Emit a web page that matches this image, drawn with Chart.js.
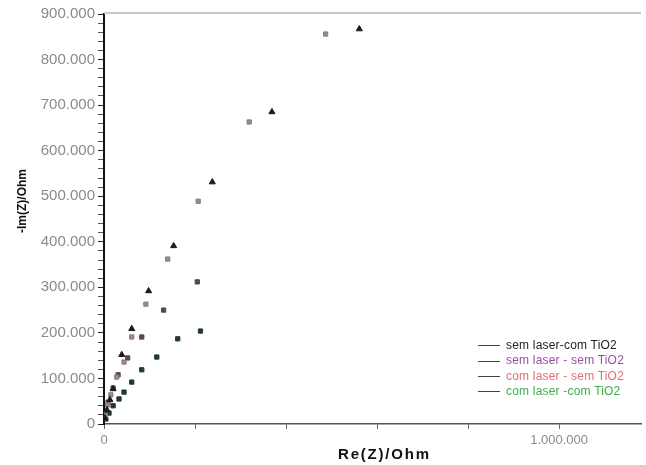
<!DOCTYPE html>
<html>
<head>
<meta charset="utf-8">
<script src="https://cdn.jsdelivr.net/npm/chart.js@4.4.1/dist/chart.umd.min.js"></script>
<style>
  body { margin: 0; background: #fff; font-family: "Liberation Sans", Arial, sans-serif; }
  #wrap { position: relative; width: 646px; height: 465px; overflow: hidden; }
  #nyquist { position: absolute; left: 0; top: 0; }
  .legend { position: absolute; left: 478px; top: 338px; font-size: 12px; letter-spacing: 0.2px; line-height: 15.3px; }
  .legend div { white-space: nowrap; }
  .legend span.ln { display: inline-block; width: 22px; height: 0; border-top: 1.5px solid #444; vertical-align: middle; margin-right: 6px; }
  .ytitle { position: absolute; left: 22px; top: 201px; transform: translate(-50%, -50%) rotate(-90deg); font-weight: bold; font-size: 12px; white-space: nowrap; color: #111; }
  .xtitle { position: absolute; left: 338px; top: 445px; font-weight: bold; font-size: 15px; letter-spacing: 1.8px; color: #111; white-space: nowrap; }
</style>
</head>
<body>
<div id="wrap">
  <canvas id="nyquist" width="646" height="465"></canvas>
  <div class="ytitle">-Im(Z)/Ohm</div>
  <div class="xtitle">Re(Z)/Ohm</div>
  <div class="legend">
    <div style="color:#222"><span class="ln"></span>sem laser-com TiO2</div>
    <div style="color:#9a4fa3"><span class="ln"></span>sem laser - sem TiO2</div>
    <div style="color:#e0706e"><span class="ln"></span>com laser - sem TiO2</div>
    <div style="color:#3fae4c"><span class="ln"></span>com laser -com TiO2</div>
  </div>
</div>
<script>
// valeurs (Ohm)
const semLaserComTiO2Re = [2000, 6500, 13000, 20000, 39000, 61000, 98000, 153000, 238000, 369000, 561000];
const semLaserComTiO2Im = [13000, 31000, 53000, 77000, 152000, 209000, 292000, 391000, 531000, 685000, 867000];

const semLaserSemTiO2Re = [3000, 8000, 15000, 28000, 44000, 61000, 92000, 140000, 207000, 319000, 487000];
const semLaserSemTiO2Im = [18000, 42000, 64000, 103000, 136000, 191000, 263000, 362000, 489000, 663000, 856000];

const comLaserSemTiO2Re = [3000, 9000, 20000, 31000, 52000, 83000, 131000, 205000];
const comLaserSemTiO2Im = [22000, 48000, 79000, 108000, 145000, 191000, 250000, 312000];

const comLaserComTiO2Re = [4000, 11000, 20000, 33000, 44000, 61000, 83000, 116000, 162000, 212000];
const comLaserComTiO2Im = [11000, 24000, 40000, 55000, 70000, 92000, 119000, 147000, 187000, 204000];

// graduations
const xTickValues = [0, 200000, 400000, 600000, 800000, 1000000];
const xLabelledTicks = [0, 1000000];
const yMajorStep = 100000;
const yMinorStep = 20000;

const xMax = 1180000;
const yMax = 900000;

function toPoints(re, im) {
    return re.map((x, i) => ({ x: x, y: im[i] }));
}

function fmt(v) {
    return String(Math.round(v)).replace(/\B(?=(\d{3})+(?!\d))/g, '.');
}

function isMultiple(v, step) {
    return Math.abs(v / step - Math.round(v / step)) < 1e-6;
}

// ligne grise en haut du cadre
const topFrame = {
    id: 'topFrame',
    afterDraw(chart) {
        const a = chart.chartArea;
        const ctx = chart.ctx;
        ctx.save();
        ctx.strokeStyle = '#c8c8c8';
        ctx.lineWidth = 2;
        ctx.beginPath();
        ctx.moveTo(a.left, a.top - 1);
        ctx.lineTo(a.right, a.top - 1);
        ctx.stroke();
        ctx.restore();
    }
};

const ctx = document.getElementById('nyquist').getContext('2d');
new Chart(ctx, {
    type: 'scatter',
    data: {
        datasets: [
            { label: 'sem laser-com TiO2', data: toPoints(semLaserComTiO2Re, semLaserComTiO2Im),
              pointStyle: 'triangle', pointRadius: 3.5, backgroundColor: '#1a1a1a', borderColor: '#1a1a1a', borderWidth: 1 },
            { label: 'sem laser - sem TiO2', data: toPoints(semLaserSemTiO2Re, semLaserSemTiO2Im),
              pointStyle: 'rect', pointRadius: 3, backgroundColor: '#9a8a94', borderColor: '#8a7a84', borderWidth: 1 },
            { label: 'com laser - sem TiO2', data: toPoints(comLaserSemTiO2Re, comLaserSemTiO2Im),
              pointStyle: 'rect', pointRadius: 3, backgroundColor: '#5a4646', borderColor: '#5a4646', borderWidth: 1 },
            { label: 'com laser -com TiO2', data: toPoints(comLaserComTiO2Re, comLaserComTiO2Im),
              pointStyle: 'rect', pointRadius: 3, backgroundColor: '#223a26', borderColor: '#223a26', borderWidth: 1 }
        ]
    },
    options: {
        responsive: false,
        animation: false,
        layout: { padding: { top: 14, right: 0, left: 0, bottom: 0 } },
        plugins: { legend: { display: false }, tooltip: { enabled: false } },
        scales: {
            x: {
                type: 'linear',
                min: 0,
                max: xMax,
                afterFit: s => { s.height = 41; },
                afterBuildTicks: s => { s.ticks = xTickValues.map(v => ({ value: v })); },
                ticks: {
                    autoSkip: false,
                    maxRotation: 0,
                    padding: 4,
                    color: '#8a8a8a',
                    font: { family: 'Liberation Sans', size: 13 },
                    callback: v => xLabelledTicks.includes(v) ? fmt(v) : ''
                },
                grid: { drawOnChartArea: false, drawTicks: true, tickLength: 5, color: '#666' },
                border: { display: true, color: '#555', width: 1.5 }
            },
            y: {
                type: 'linear',
                min: 0,
                max: yMax,
                afterFit: s => { s.width = 104; },
                afterBuildTicks: s => {
                    const t = [];
                    for (let v = 0; v <= yMax; v += yMinorStep) t.push({ value: v });
                    s.ticks = t;
                },
                ticks: {
                    autoSkip: false,
                    padding: 3,
                    color: '#8a8a8a',
                    font: { family: 'Liberation Sans', size: 15 },
                    callback: v => isMultiple(v, yMajorStep) ? fmt(v) : ''
                },
                grid: {
                    drawOnChartArea: false,
                    drawTicks: true,
                    tickLength: 6,
                    color: c => (c.tick && isMultiple(c.tick.value, yMajorStep)) ? '#222' : '#555'
                },
                border: { display: true, color: '#111', width: 2 }
            }
        }
    },
    plugins: [topFrame]
});
</script>
</body>
</html>
